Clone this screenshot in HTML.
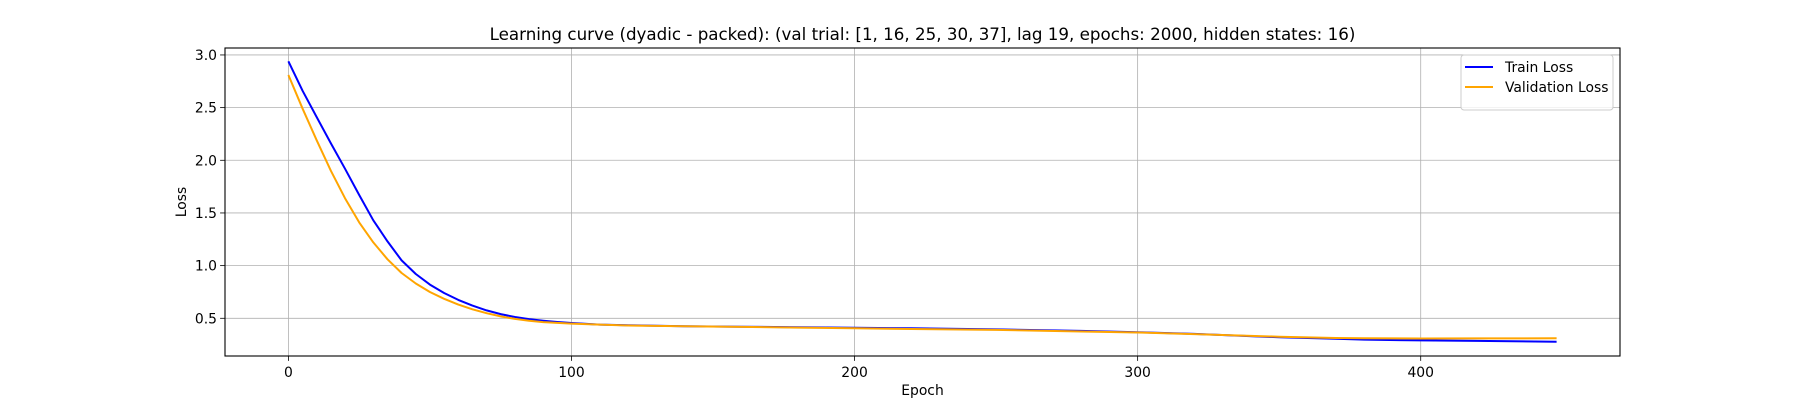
<!DOCTYPE html>
<html><head><meta charset="utf-8"><style>
html,body{margin:0;padding:0;background:#fff;}
svg{display:block;font-family:"DejaVu Sans","Liberation Sans",sans-serif;}
</style></head><body>
<svg id="chart" width="1800" height="400" viewBox="0 0 1800 400">
<text x="922.5" y="40" text-anchor="middle" font-size="16.7" fill="#000">Learning curve (dyadic - packed): (val trial: [1, 16, 25, 30, 37], lag 19, epochs: 2000, hidden states: 16)</text>
<g id="grid"></g>
<g id="series"></g>
<rect x="225" y="48" width="1395" height="308" fill="none" stroke="#000" stroke-width="1.1"/>
<g id="ticks"></g>
<text x="922.5" y="395" text-anchor="middle" font-size="13.9">Epoch</text>
<text transform="translate(186,202) rotate(-90)" text-anchor="middle" font-size="13.9">Loss</text>
<g>
<rect x="1461" y="55" width="152" height="55" rx="3" fill="#fff" fill-opacity="0.8" stroke="#ccc"/>
<line x1="1465" y1="67" x2="1493" y2="67" stroke="#0000ff" stroke-width="2"/>
<text x="1505" y="72" font-size="13.9">Train Loss</text>
<line x1="1465" y1="87" x2="1493" y2="87" stroke="#ffa500" stroke-width="2"/>
<text x="1505" y="92" font-size="13.9">Validation Loss</text>
</g>
</svg>
<script>
const epochs = [0,5,10,15,20,25,30,35,40,45,50,55,60,65,70,75,80,85,90,95,100,110,120,140,160,180,200,220,250,280,300,320,350,370,380,400,420,448];
const trainLoss = [2.94,2.66,2.41,2.16,1.92,1.67,1.43,1.23,1.05,0.92,0.82,0.74,0.675,0.62,0.575,0.54,0.512,0.492,0.477,0.465,0.455,0.44,0.433,0.425,0.42,0.415,0.41,0.405,0.395,0.38,0.368,0.352,0.32,0.305,0.298,0.29,0.285,0.278];
const valLoss = [2.81,2.49,2.19,1.90,1.64,1.41,1.22,1.06,0.93,0.83,0.75,0.685,0.63,0.585,0.548,0.518,0.494,0.477,0.464,0.456,0.45,0.44,0.432,0.424,0.418,0.412,0.405,0.398,0.39,0.375,0.365,0.35,0.325,0.313,0.31,0.308,0.309,0.31];
const xTicks = [0,100,200,300,400];
const yTicks = [0.5,1.0,1.5,2.0,2.5,3.0];
const yTickLabels = ["0.5","1.0","1.5","2.0","2.5","3.0"];

const X0=225,X1=1620,Y0=356,Y1=48;
const xMin=-22.4,xMax=470.4,yMin=0.142,yMax=3.066;
function sx(v){return X0+(v-xMin)/(xMax-xMin)*(X1-X0);}
function sy(v){return Y0-(v-yMin)/(yMax-yMin)*(Y0-Y1);}
const NS="http://www.w3.org/2000/svg";
const grid=document.getElementById('grid'),ticks=document.getElementById('ticks'),series=document.getElementById('series');
function mk(tag,attrs,parent){const e=document.createElementNS(NS,tag);for(const k in attrs)e.setAttribute(k,attrs[k]);parent.appendChild(e);return e;}
xTicks.forEach(t=>{
  const x=sx(t);
  const g=mk('line',{x1:x,y1:Y1,x2:x,y2:Y0,stroke:'#b0b0b0','stroke-width':0.8},grid);
  
  
  const tk=mk('line',{x1:x,y1:Y0,x2:x,y2:Y0+4.9,stroke:'#000','stroke-width':0.8},ticks);
  
  
  const tx=mk('text',{x:x,y:Y0+21,'text-anchor':'middle','font-size':13.9},ticks);
  tx.textContent=String(t);
  
  
});
yTicks.forEach((t,i)=>{
  const y=sy(t);
  const g=mk('line',{x1:X0,y1:y,x2:X1,y2:y,stroke:'#b0b0b0','stroke-width':0.8},grid);
  
  
  const tk=mk('line',{x1:X0-4.9,y1:y,x2:X0,y2:y,stroke:'#000','stroke-width':0.8},ticks);
  
  
  const tx=mk('text',{x:X0-8,y:y+5,'text-anchor':'end','font-size':13.9},ticks);
  tx.textContent=yTickLabels[i];
  
  
});
function pts(arr){return epochs.map((e,i)=>sx(e).toFixed(1)+','+sy(arr[i]).toFixed(1)).join(' ');}
const tl=mk('polyline',{points:pts(trainLoss),fill:'none',stroke:'#0000ff','stroke-width':2,'stroke-linejoin':'round'},series);


const vl=mk('polyline',{points:pts(valLoss),fill:'none',stroke:'#ffa500','stroke-width':2,'stroke-linejoin':'round'},series);


</script>
</body></html>
